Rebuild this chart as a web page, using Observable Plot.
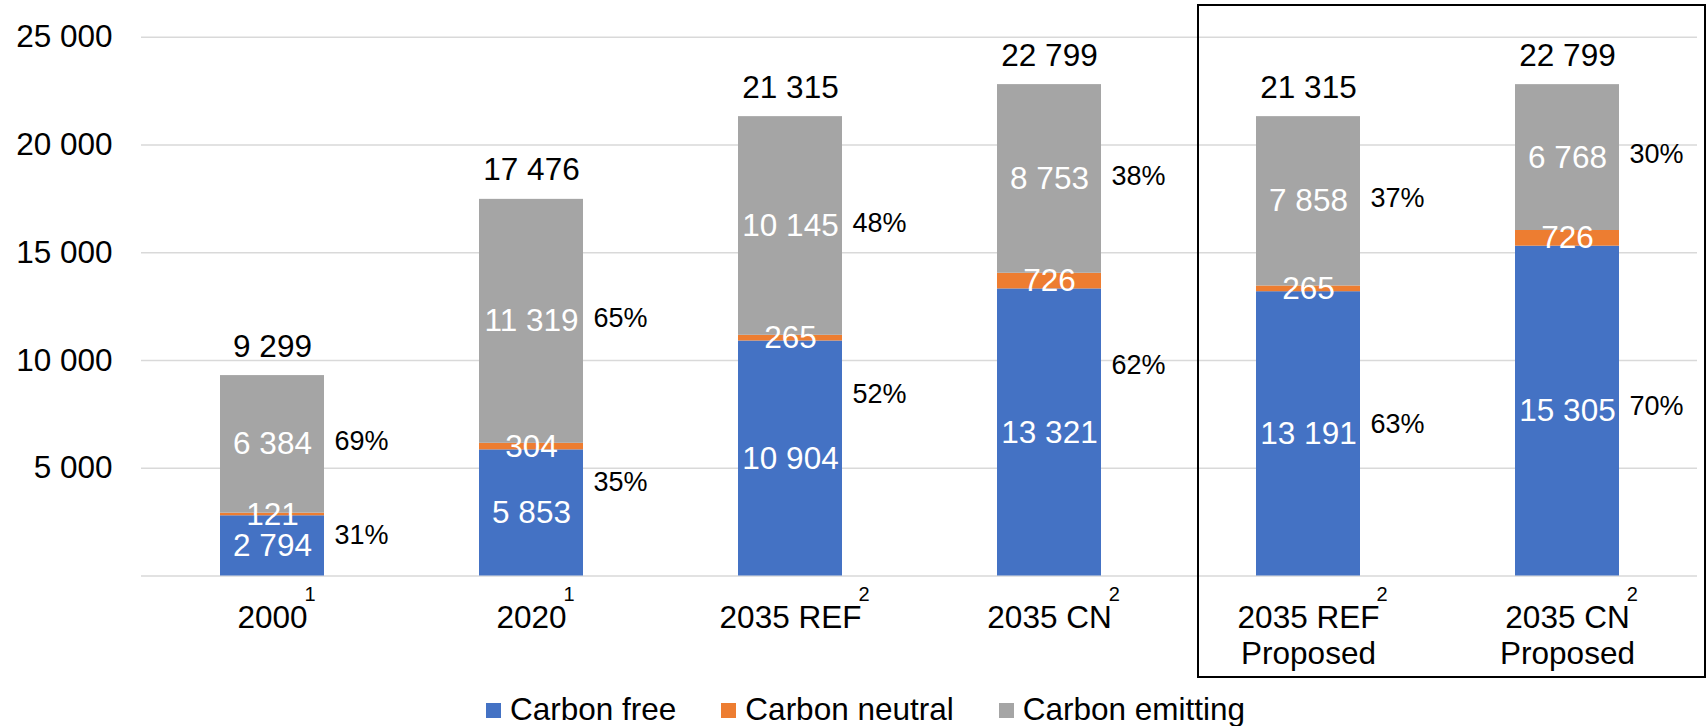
<!DOCTYPE html>
<html><head><meta charset="utf-8">
<script src="https://cdn.jsdelivr.net/npm/d3@7"></script>
<script src="https://cdn.jsdelivr.net/npm/@observablehq/plot@0.6"></script>
<style>
body{margin:0;background:#fff;font-family:"Liberation Sans",Arial,sans-serif;}
#wrap{position:relative;width:1706px;height:726px;overflow:hidden;}
#box{position:absolute;left:1197px;top:4px;width:509px;height:674px;border:2.6px solid #000;box-sizing:border-box;pointer-events:none;}
#legend{position:absolute;left:486px;top:692px;height:34px;display:flex;align-items:center;font-size:31.5px;line-height:31px;color:#000;white-space:nowrap;}
.item{display:flex;align-items:center;margin-right:45px;}
.sw{width:15px;height:15px;margin-right:9px;margin-top:3px;}
</style></head><body>
<div id="wrap"><div id="chart"></div><div id="box"></div><div id="legend"></div></div>
<script>
// ---- data ----
const categories = ["2000", "2020", "2035 REF", "2035 CN", "2035 REF Proposed", "2035 CN Proposed"];
const tickLabels = ["2000", "2020", "2035 REF", "2035 CN", "2035 REF\nProposed", "2035 CN\nProposed"];
const footnotes = ["1", "1", "2", "2", "2", "2"];
const seriesNames = ["Carbon free", "Carbon neutral", "Carbon emitting"];
const carbonFree = [2794, 5853, 10904, 13321, 13191, 15305];
const carbonNeutral = [121, 304, 265, 726, 265, 726];
const carbonEmitting = [6384, 11319, 10145, 8753, 7858, 6768];
const totals = [9299, 17476, 21315, 22799, 21315, 22799];
const pctFree = [31, 35, 52, 62, 63, 70];
const pctEmitting = [69, 65, 48, 38, 37, 30];
const pctFreeLabelAt = [1880, 4340, 8430, 9780, 7050, 7870]; // level (MW) where the free-share label sits
const yTicks = [5000, 10000, 15000, 20000, 25000];
const gridTicks = [0, 5000, 10000, 15000, 20000, 25000];
const colors = ["#4472C4", "#ED7D31", "#A5A5A5"];

// ---- build table ----
const seriesValues = [carbonFree, carbonNeutral, carbonEmitting];
const rows = [];
seriesNames.forEach((s, si) => categories.forEach((c, ci) => rows.push({cat: c, series: s, value: seriesValues[si][ci], ci})));

const fmt = v => d3.format(",")(v).replace(/,/g, " ");
const font = "Liberation Sans, Arial, sans-serif";
const FS = 31.5;

const ctx = document.createElement("canvas").getContext("2d");
ctx.font = FS + "px 'Liberation Sans', Arial";
const firstLineWidth = t => ctx.measureText(t.split("\n")[0]).width;

const supMarks = categories.map((c, i) => Plot.text([c], {
  x: d => d, text: () => footnotes[i], frameAnchor: "bottom", lineAnchor: "bottom",
  textAnchor: "start", dy: 25, dx: firstLineWidth(tickLabels[i]) / 2 - 3, fontSize: 20, fill: "#000"
}));

const chart = Plot.plot({
  width: 1706, height: 692,
  marginLeft: 141, marginRight: 9, marginTop: 36.7, marginBottom: 116.5,
  style: {fontFamily: font, background: "white", color: "#000", overflow: "visible"},
  x: {domain: categories, paddingInner: 0.6, paddingOuter: 0.3, axis: null},
  y: {domain: [0, 25000], axis: null},
  color: {domain: seriesNames, range: colors},
  marks: [
    Plot.ruleY(gridTicks, {stroke: "#d9d9d9", strokeWidth: 1.6}),
    Plot.axisY(yTicks, {tickSize: 0, tickPadding: 29, fontSize: FS, tickFormat: fmt, fill: "#000", label: null}),
    Plot.barY(rows, {x: "cat", y: "value", fill: "series", z: "series"}),
    Plot.text(rows, Plot.stackY({x: "cat", y: "value", z: "series", text: d => fmt(d.value), fill: "white", fontSize: FS, lineAnchor: "middle"})),
    Plot.text(rows, Plot.stackY({x: "cat", y: "value", z: "series",
      text: d => d.series === "Carbon emitting" ? pctEmitting[d.ci] + "%" : null,
      textAnchor: "start", dx: 62, dy: -3, fontSize: 27, fill: "#000", lineAnchor: "middle"})),
    Plot.text(categories, {x: d => d, y: (d, i) => pctFreeLabelAt[i], text: (d, i) => pctFree[i] + "%",
      textAnchor: "start", dx: 62, fontSize: 27, fill: "#000", lineAnchor: "middle"}),
    Plot.text(categories, {x: d => d, y: (d, i) => totals[i], text: (d, i) => fmt(totals[i]),
      dy: -19, lineAnchor: "bottom", fontSize: FS, fill: "#000"}),
    Plot.text(categories, {x: d => d, text: (d, i) => tickLabels[i], frameAnchor: "bottom",
      lineAnchor: "top", dy: 26.5, lineHeight: 1.15, fontSize: FS, fill: "#000"}),
    ...supMarks
  ]
});
document.getElementById("chart").appendChild(chart);

// legend
const lg = document.getElementById("legend");
seriesNames.forEach((s, i) => {
  const it = document.createElement("div"); it.className = "item";
  const sw = document.createElement("div"); sw.className = "sw"; sw.style.background = colors[i];
  const tx = document.createElement("span"); tx.textContent = s;
  it.appendChild(sw); it.appendChild(tx); lg.appendChild(it);
});
</script>
</body></html>
